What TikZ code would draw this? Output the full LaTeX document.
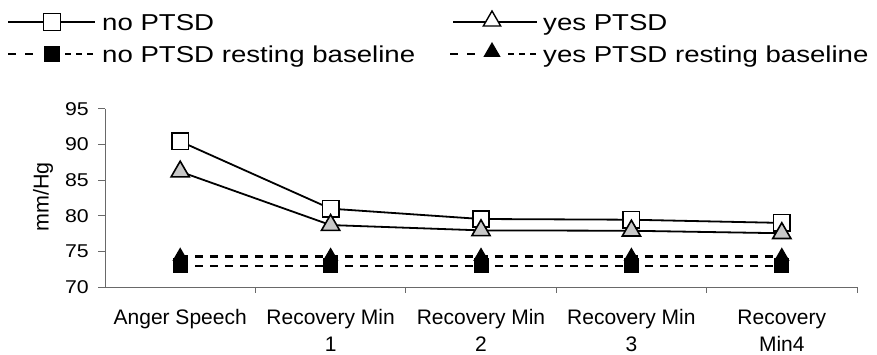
\documentclass[tikz,border=0pt]{standalone}
\usepackage{fontspec}
\setmainfont{Liberation Sans}
\newfontfamily\legendfont[FakeStretch=1.2]{Liberation Sans}
\newfontfamily\tickfont[FakeStretch=1.15]{Liberation Sans}
\usetikzlibrary{shapes.geometric}
\definecolor{triGray}{RGB}{200,200,200}
\definecolor{axisGray}{RGB}{105,105,105}

\begin{document}
\begin{tikzpicture}[x=1pt,y=1pt,
  sqmark/.style={rectangle,draw=black,fill=white,line width=1.6pt,minimum size=16.5pt,inner sep=0pt},
  trimark/.style={regular polygon,regular polygon sides=3,draw=black,fill=triGray,line width=1.6pt,minimum size=21pt,inner sep=0pt},
  opentri/.style={trimark,fill=white,line width=1.4pt,minimum size=20pt},
  basesq/.style={rectangle,fill=black,minimum size=15pt,inner sep=0pt},
  basetri/.style={regular polygon,regular polygon sides=3,fill=black,minimum size=18pt,inner sep=0pt},
  dataline/.style={line width=1.8pt},
  baseline/.style={line width=2.4pt,dash pattern=on 8pt off 7pt},
  legline/.style={line width=1.4pt},
  legdashL/.style={line width=1.4pt,dash pattern=on 8pt off 9pt},
  legdashR/.style={line width=1.4pt,dash pattern=on 6pt off 5pt},
  legtext/.style={inner sep=0pt,anchor=base west,font=\legendfont\fontsize{23}{27}\selectfont},
  ticklabel/.style={inner sep=0pt,anchor=east,font=\tickfont\fontsize{18.5}{21}\selectfont},
  catlabel/.style={inner sep=0pt,anchor=north,align=center,font=\fontsize{21}{27}\selectfont},
  axisline/.style={draw=axisGray,line width=1pt}
]
\useasboundingbox (0,0) rectangle (877,-355);

% ---------- legend ----------
\coordinate (la1) at (8,-22);  \coordinate (lb1) at (95,-22);
\coordinate (ra1) at (453,-22); \coordinate (rb1) at (537,-22);
\draw[legline] (la1) -- (lb1);
\draw[legline] (ra1) -- (rb1);
\node[sqmark,line width=1.4pt,minimum size=17pt] (lm1) at (52,-22) {};
\node[basesq,minimum size=16pt] (lm2) at (52,-54) {};
\node[opentri] (rm1) at (492,-21) {};
\node[basetri,minimum size=20pt] (rm2) at (492,-52) {};
% dashed keys, split around their markers
\coordinate (la2) at (8,-54);   \coordinate (lc2) at (33,-54);
\coordinate (ld2) at (65,-54);  \coordinate (lb2) at (93,-54);
\coordinate (ra2) at (450,-54); \coordinate (rc2) at (475,-54);
\coordinate (rd2) at (508,-54); \coordinate (rb2) at (536,-54);
\draw[legdashL] (la2) -- (lc2);
\draw[legdashR] (ld2) -- (lb2);
\draw[legdashL] (ra2) -- (rc2);
\draw[legdashR] (rd2) -- (rb2);
\node[legtext] (lt1) at (102,-30.5) {no PTSD};
\node[legtext] (lt2) at (102,-62.5) {no PTSD resting baseline};
\node[legtext] (rt1) at (543,-30.5) {yes PTSD};
\node[legtext] (rt2) at (543,-62.5) {yes PTSD resting baseline};

% ---------- y-axis title ----------
\node[rotate=90,inner sep=0pt,font=\fontsize{21.5}{25}\selectfont] (ytitle) at (43,-197) {mm/Hg};

% ---------- plot area: one unit in x per category, one unit in y per mmHg above 70 ----------
\begin{scope}[shift={(105,-287)},x=150.4pt,y=7.12pt]
  % axes
  \coordinate (origin) at (0,0);
  \coordinate (ytop) at (0,25);
  \coordinate (xend) at (5,0);
  \draw[axisline] (ytop) -- (origin) -- (xend);
  \foreach \v/\lab in {0/70,5/75,10/80,15/85,20/90,25/95}{
    \coordinate (yt\v) at (0,\v);
    \draw[axisline] (yt\v) -- ++(-7pt,0);
    \node[ticklabel] (yl\v) at ([xshift=-16pt]yt\v) {\lab};
  }
  \foreach \i in {1,...,5}{
    \coordinate (xt\i) at (\i,0);
    \draw[axisline] (xt\i) -- ++(0,-6pt);
  }
  % category labels
  \node[catlabel] (c0) at (0.5,-3.15) {Anger Speech};
  \node[catlabel] (c1) at (1.5,-3.15) {Recovery Min\\1};
  \node[catlabel] (c2) at (2.5,-3.15) {Recovery Min\\2};
  \node[catlabel] (c3) at (3.5,-3.15) {Recovery Min\\3};
  \node[catlabel] (c4) at (4.5,-3.15) {Recovery\\Min4};

  % data positions
  \foreach \i/\n/\y in {0/20.45/16.2, 1/11.0/8.7, 2/9.55/7.95, 3/9.45/7.9, 4/9.0/7.55}{
    \coordinate (n\i) at (\i+0.5,\n);
    \coordinate (y\i) at (\i+0.5,\y);
    \coordinate (bn\i) at (\i+0.5,2.95);
    \coordinate (by\i) at (\i+0.5,4.3);
  }

  % resting baselines
  \draw[baseline] (by0) -- (by1) -- (by2) -- (by3) -- (by4);
  \draw[baseline] (bn0) -- (bn1) -- (bn2) -- (bn3) -- (bn4);
  \foreach \i in {0,...,4}{
    \node[basetri] (byt\i) at (by\i) {};
    \node[basesq] (bns\i) at (bn\i) {};
  }

  % reactivity series
  \draw[dataline] (n0) -- (n1) -- (n2) -- (n3) -- (n4);
  \draw[dataline] (y0) -- (y1) -- (y2) -- (y3) -- (y4);
  \foreach \i in {0,...,4}{
    \node[sqmark] (ns\i) at (n\i) {};
  }
  \foreach \i in {0,...,4}{
    \node[trimark] (yt\i) at (y\i) {};
  }
\end{scope}
\end{tikzpicture}
\end{document}
